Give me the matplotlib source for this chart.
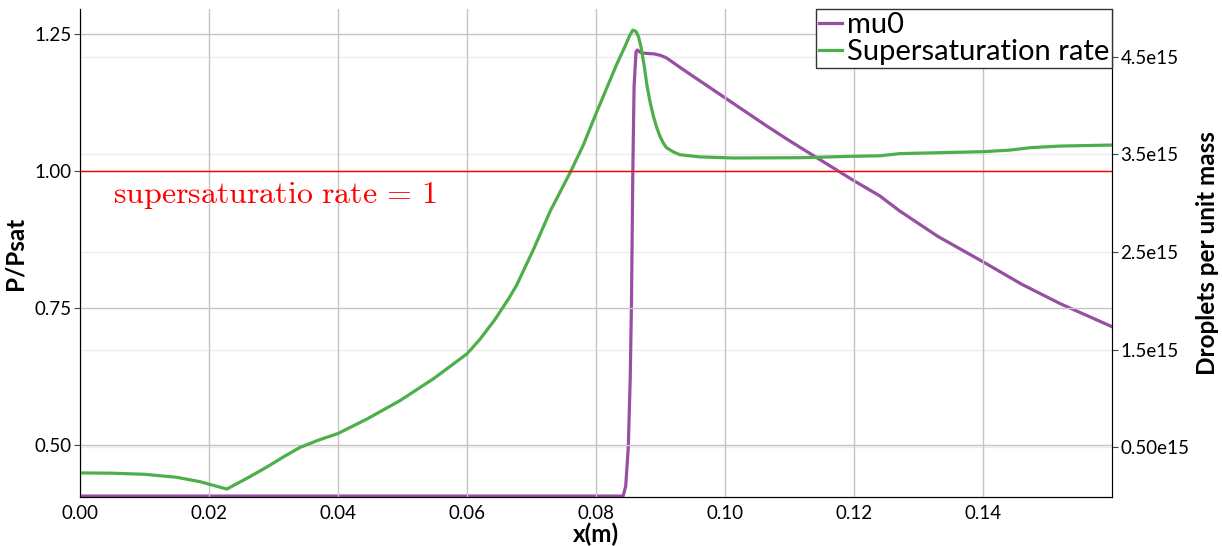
import numpy as np
import matplotlib
matplotlib.use('Agg')
import matplotlib.pyplot as plt

plt.rcParams['font.family'] = ['Lato', 'DejaVu Sans']
plt.rcParams['mathtext.fontset'] = 'cm'

# supersaturation rate (P/Psat), left axis
x_sat = [0.0, 0.005, 0.010, 0.015, 0.0186, 0.02275, 0.0260, 0.0290, 0.0315, 0.0341,
         0.0370, 0.0400, 0.0445, 0.0496, 0.0548, 0.0600, 0.0620, 0.0643, 0.0665,
         0.0677, 0.0703, 0.0729, 0.0761, 0.0780, 0.0800, 0.0816, 0.0832, 0.0845,
         0.0852, 0.0857, 0.0862, 0.0866, 0.0870, 0.0875, 0.0879, 0.0884, 0.0889,
         0.0894, 0.0899, 0.0904, 0.0909, 0.0920, 0.0930, 0.0961, 0.1013, 0.1116,
         0.1194, 0.1240, 0.1271, 0.1400, 0.1442, 0.1473, 0.1520, 0.1600]
sat = [0.449, 0.4485, 0.4465, 0.441, 0.433, 0.4195, 0.440, 0.460, 0.478, 0.4956,
       0.509, 0.521, 0.5475, 0.581, 0.621, 0.6665, 0.693, 0.7286, 0.768,
       0.792, 0.857, 0.927, 1.000, 1.047, 1.105, 1.150, 1.195, 1.228,
       1.247, 1.2575, 1.255, 1.245, 1.225, 1.190, 1.156, 1.125, 1.100,
       1.080, 1.064, 1.052, 1.043, 1.035, 1.030, 1.026, 1.024, 1.0245,
       1.027, 1.028, 1.032, 1.0355, 1.0384, 1.0428, 1.0458, 1.0476]

# mu0 (droplets per unit mass), right axis
x_mu0 = [0.0, 0.0842, 0.0846, 0.0850, 0.0853, 0.0855, 0.0857, 0.0859, 0.0862,
         0.0864, 0.0870, 0.0879, 0.0890, 0.0900, 0.0909, 0.0935, 0.1000, 0.1065,
         0.1100, 0.1200, 0.1240, 0.1271, 0.1330, 0.1400, 0.1460, 0.1520, 0.1600]
mu0 = [0.0, 0.0, 0.1e15, 0.5e15, 1.2e15, 2.0e15, 3.3e15, 4.2e15, 4.55e15,
       4.57e15, 4.54e15, 4.535e15, 4.53e15, 4.515e15, 4.49e15, 4.37e15, 4.08e15,
       3.79e15, 3.64e15, 3.23e15, 3.075e15, 2.92e15, 2.66e15, 2.40e15, 2.17e15,
       1.97e15, 1.735e15]

left_ticks = [0.50, 0.75, 1.00, 1.25]
right_ticks = [0.5e15, 1.5e15, 2.5e15, 3.5e15, 4.5e15]
right_labels = ['0.50e15', '1.5e15', '2.5e15', '3.5e15', '4.5e15']
x_ticks = [0.0, 0.02, 0.04, 0.06, 0.08, 0.10, 0.12, 0.14]

purple = '#984ea3'
green = '#4daf4a'

fig = plt.figure(figsize=(12.22, 5.46), dpi=100)
ax1 = fig.add_axes([0.0655, 0.0897, 0.8445, 0.8938])
ax2 = ax1.twinx()
ax1.set_zorder(ax2.get_zorder() + 1)
ax1.patch.set_visible(False)

l_mu, = ax2.plot(x_mu0, mu0, color=purple, lw=2.3, label='mu0')
ax2.set_ylim(-0.01e15, 4.99e15)
ax2.set_yticks(right_ticks)
ax2.set_yticklabels(right_labels)
ax2.grid(axis='y', color='#ececec', lw=1)
ax2.set_ylabel('Droplets per unit mass', fontsize=17.5, fontweight='bold', labelpad=5)

l_sat, = ax1.plot(x_sat, sat, color=green, lw=2.3, label='Supersaturation rate')
ax1.axhline(1.0, color='#ff0000', lw=1)
ax1.text(0.0051, 0.955, r'$\mathrm{supersaturatio\ rate}\,=\,1$', color='#ff0000',
         fontsize=23, va='center', ha='left')
ax1.set_xlim(0, 0.16)
ax1.set_ylim(0.405, 1.296)
ax1.set_yticks(left_ticks)
ax1.set_yticklabels(['%.2f' % t for t in left_ticks])
ax1.set_xticks(x_ticks)
ax1.set_xticklabels(['%.2f' % t for t in x_ticks])
ax1.grid(True, color='#c4c4c4', lw=1)
ax1.set_xlabel('x(m)', fontsize=17.5, fontweight='bold', labelpad=0)
ax1.set_ylabel('P/Psat', fontsize=17.5, fontweight='bold', labelpad=6)

for ax in (ax1, ax2):
    ax.spines['top'].set_visible(False)
    ax.tick_params(labelsize=13.5, length=4, color='#444444', pad=2)
ax2.spines['right'].set_color('#555555')
ax1.tick_params(axis='x', length=0, pad=6)

leg = ax1.legend(handles=[l_mu, l_sat], loc='upper right', bbox_to_anchor=(1.0, 1.0),
                 borderaxespad=0, fontsize=21, frameon=True, fancybox=False,
                 handlelength=0.8, handletextpad=0.15, borderpad=0.1,
                 labelspacing=0.05)
leg.get_frame().set_edgecolor('#333333')
leg.get_frame().set_linewidth(1)
leg.get_frame().set_alpha(1)

fig.savefig('out.png', dpi=100)
